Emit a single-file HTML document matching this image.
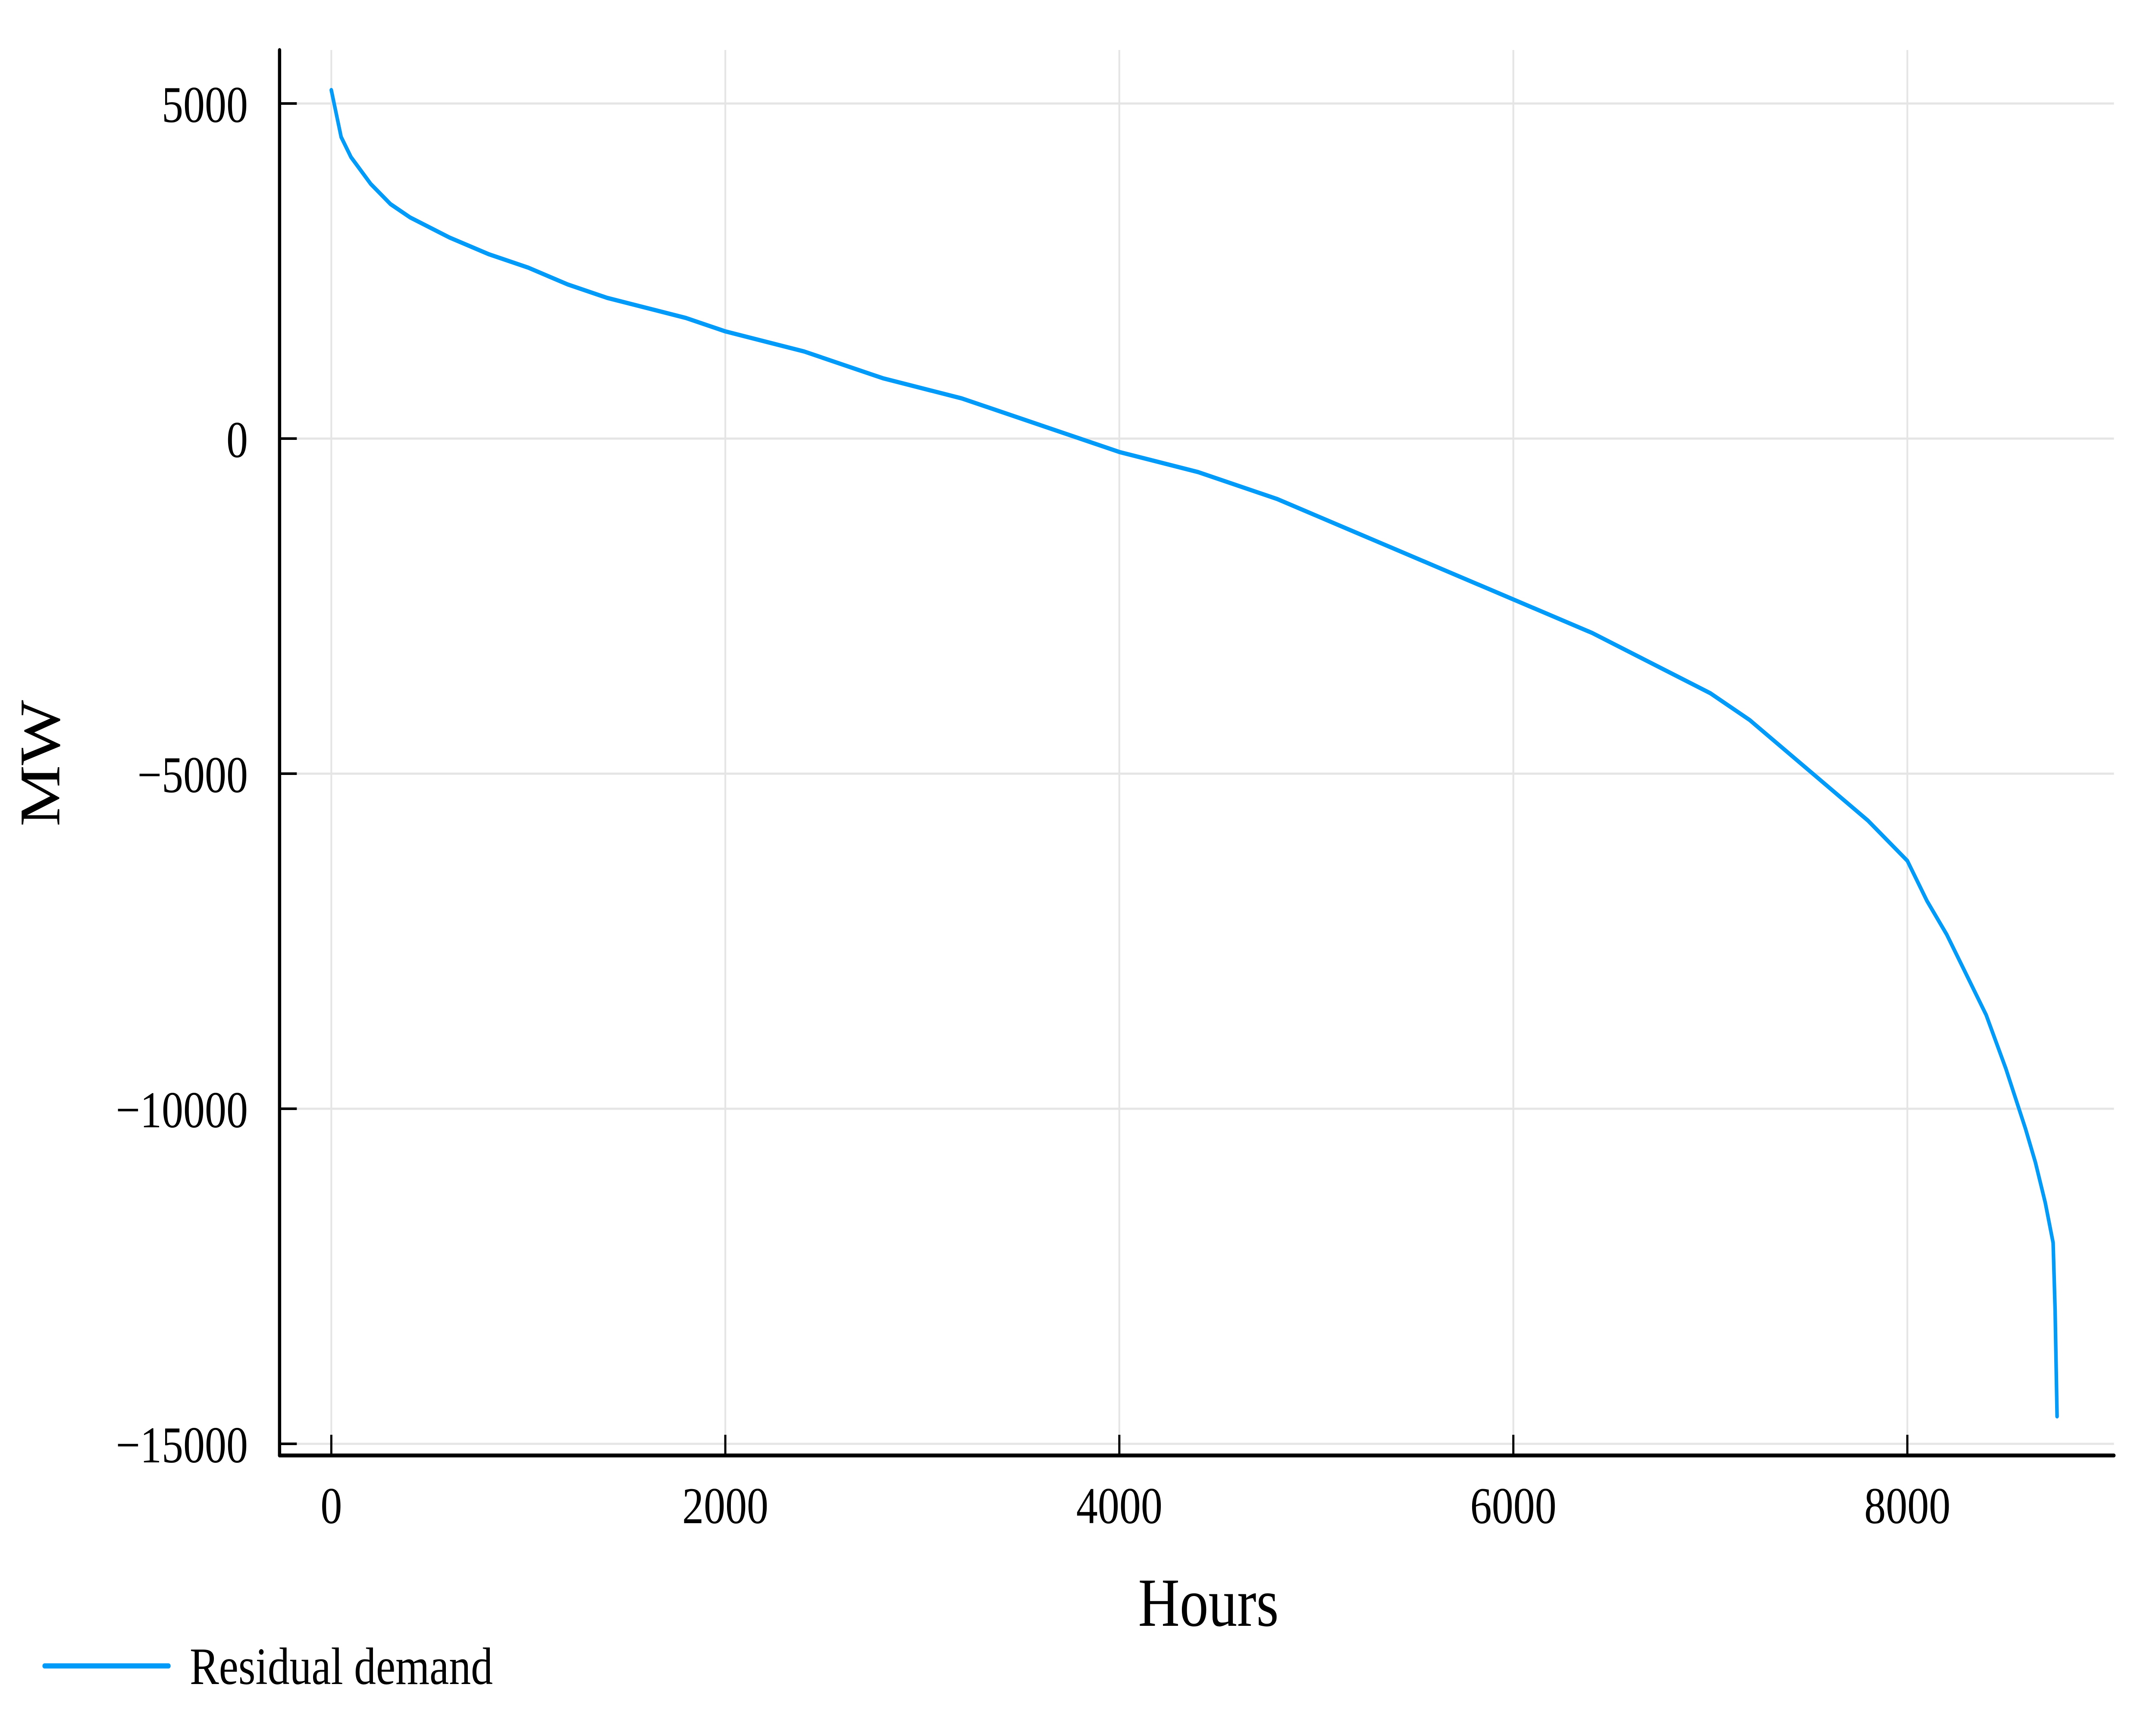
<!DOCTYPE html>
<html><head><meta charset="utf-8"><style>
html,body{margin:0;padding:0;background:#fff;width:100%;height:100%;overflow:hidden;}
svg{display:block;position:absolute;left:0;top:0;width:100vw;height:100vh;}
text{font-family:"Liberation Serif","DejaVu Serif",serif;fill:#000;}
</style></head><body>
<svg id="chart" viewBox="0 0 6000 4000" preserveAspectRatio="none" xmlns="http://www.w3.org/2000/svg">
<rect width="6000" height="4000" fill="#fff"/>
<g id="grid"></g>
<g id="series"></g>
<g id="axes"></g>
<text x="3363" y="3770" font-size="160" text-anchor="middle">Hours</text>
<text transform="translate(165,1770) rotate(-90)" font-size="160" text-anchor="middle">MW</text>
<g>
<line x1="124" y1="3863" x2="469" y2="3863" stroke="#009af9" stroke-width="12" stroke-linecap="round"/>
<text x="528" y="3905" font-size="122">Residual demand</text>
</g>
</svg>
<script>
const hours = [0,50,100,200,300,400,600,800,1000,1200,1400,1600,1800,2000,2400,2800,3200,3600,4000,4400,4800,5200,5600,6000,6400,6800,7000,7200,7400,7600,7800,8000,8100,8200,8300,8400,8500,8600,8650,8700,8740,8750,8760];
const demand = [5200,4500,4200,3800,3500,3300,3000,2750,2550,2300,2100,1950,1800,1600,1300,900,600,200,-200,-500,-900,-1400,-1900,-2400,-2900,-3500,-3800,-4200,-4700,-5200,-5700,-6300,-6900,-7400,-8000,-8600,-9400,-10300,-10800,-11400,-12000,-13000,-14590];
const xTicks = [0,2000,4000,6000,8000];
const xTickLabels = ["0","2000","4000","6000","8000"];
const yTicks = [5000,0,-5000,-10000,-15000];
const yTickLabels = ["5000","0","\u22125000","\u221210000","\u221215000"];

const NS="http://www.w3.org/2000/svg";
const L=778,R=5883,T=116,B=3375;
function xs(h){return 922+h*(5308-922)/8000;}
function ys(v){return 1017-v*(1017-240)/5000;}
function mk(tag,attrs,parent){const e=document.createElementNS(NS,tag);for(const k in attrs)e.setAttribute(k,attrs[k]);parent.appendChild(e);return e;}
const grid=document.getElementById('grid'),axes=document.getElementById('axes'),series=document.getElementById('series');
xTicks.forEach((t,i)=>{
  const g=mk('line',{x1:xs(t),x2:xs(t),y1:T,y2:B,stroke:'#e5e5e5','stroke-width':5},grid);
  
  
  const tk=mk('line',{x1:xs(t),x2:xs(t),y1:B,y2:B-48,stroke:'#000','stroke-width':6},axes);
  
  
  const tx=mk('text',{x:xs(t),y:3532,'font-size':120,'text-anchor':'middle'},axes);
  tx.textContent=xTickLabels[i];
  
  
});
yTicks.forEach((t,i)=>{
  const g=mk('line',{x1:L,x2:R,y1:ys(t),y2:ys(t),stroke:'#e5e5e5','stroke-width':5},grid);
  
  
  const tk=mk('line',{x1:L,x2:L+48,y1:ys(t),y2:ys(t),stroke:'#000','stroke-width':6},axes);
  
  
  const tx=mk('text',{x:690,y:ys(t)+43,'font-size':120,'text-anchor':'end'},axes);
  tx.textContent=yTickLabels[i];
  
  
});
const ax=mk('line',{x1:L,x2:L,y1:T,y2:B,stroke:'#000','stroke-width':9,'stroke-linecap':'round'},axes);


const bx=mk('line',{x1:L,x2:R,y1:B,y2:B,stroke:'#000','stroke-width':9,'stroke-linecap':'round'},axes);


const pts=hours.map((h,i)=>xs(h).toFixed(1)+','+ys(demand[i]).toFixed(1)).join(' ');
const pl=mk('polyline',{points:pts,fill:'none',stroke:'#009af9','stroke-width':10,'stroke-linejoin':'round','stroke-linecap':'round'},series);


</script>
</body></html>
